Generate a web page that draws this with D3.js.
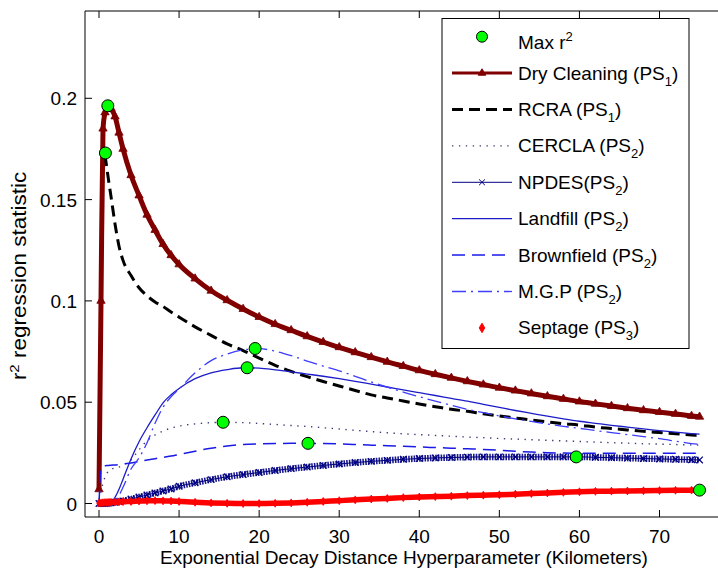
<!DOCTYPE html>
<html>
<head>
<meta charset="utf-8">
<script src="https://cdn.jsdelivr.net/npm/d3@7"></script>
<style>
body { margin: 0; background: #fff; }
svg text { font-family: Arial, "Liberation Sans", sans-serif; fill: #000; }
</style>
</head>
<body>
<svg id="chart" width="718" height="573"></svg>
<script>
// hyperparameter grid (km) and r^2
var distanceKm = [0, 0.25, 0.5, 0.75, 1, 1.25, 1.5, 2, 2.5, 3, 4, 5, 6, 7, 8, 9, 10,
	12, 14, 16, 18, 20, 22, 24, 26, 28, 30, 32, 34, 36, 38, 40, 42, 44, 46, 48, 50,
	52, 54, 56, 58, 60, 62, 64, 66, 68, 70, 72, 74, 75];
var dryCleaning = [0.007, 0.100, 0.185, 0.193, 0.1960, 0.1963, 0.195, 0.191, 0.183, 0.175, 0.162, 0.152, 0.1425, 0.135, 0.128, 0.1225, 0.118,
	0.111, 0.105, 0.1003, 0.096, 0.092, 0.0885, 0.0855, 0.0825, 0.0797, 0.0771, 0.0746, 0.0722, 0.0699, 0.0678, 0.0657, 0.0638, 0.0620, 0.0603, 0.0587, 0.0571,
	0.0557, 0.0543, 0.0529, 0.0516, 0.0503, 0.0492, 0.0481, 0.0470, 0.0460, 0.0451, 0.0442, 0.0432, 0.0428];
var rcra = [null, null, null, 0.172, 0.165, 0.158, 0.1515, 0.138, 0.127, 0.120, 0.1125, 0.1065, 0.1025, 0.0995, 0.0972, 0.0945, 0.0920,
	0.0872, 0.0830, 0.0788, 0.0755, 0.0718, 0.0682, 0.0652, 0.0626, 0.0602, 0.0580, 0.0558, 0.0536, 0.0521, 0.0506, 0.0491, 0.0478, 0.0465, 0.0455, 0.0443, 0.0432,
	0.0422, 0.0412, 0.0403, 0.0394, 0.0387, 0.0377, 0.0370, 0.0363, 0.0356, 0.0350, 0.0344, 0.0338, 0.0335];
var cercla = [0.002, 0.006, 0.010, 0.013, 0.015, 0.016, 0.017, 0.0175, 0.018, 0.019, 0.0215, 0.0265, 0.031, 0.0338, 0.0358, 0.0372, 0.0382,
	0.0393, 0.0399, 0.0401, 0.0399, 0.0395, 0.0390, 0.0385, 0.0380, 0.0374, 0.0368, 0.0361, 0.0355, 0.0349, 0.0344, 0.0340, 0.0336, 0.0332, 0.0328, 0.0325, 0.0321,
	0.0318, 0.0315, 0.0312, 0.0309, 0.0306, 0.0303, 0.0300, 0.0298, 0.0295, 0.0293, 0.0291, 0.0289, 0.0288];
var npdes = [0, 0, 0, 0, 0.0001, 0.0002, 0.0003, 0.0006, 0.001, 0.0013, 0.0022, 0.0032, 0.0042, 0.0052, 0.0062, 0.0072, 0.0085,
	0.0102, 0.0118, 0.0132, 0.0143, 0.0153, 0.0163, 0.0172, 0.0180, 0.0188, 0.0195, 0.0202, 0.0208, 0.0213, 0.0218, 0.0222, 0.0225, 0.0227, 0.0229, 0.0230, 0.0230,
	0.0230, 0.0230, 0.0230, 0.0230, 0.0230, 0.0228, 0.0226, 0.0224, 0.0222, 0.0220, 0.0218, 0.0216, 0.0215];
var landfill = [0, 0, 0, 0, 0, 0, 0.0005, 0.003, 0.007, 0.012, 0.022, 0.0305, 0.0374, 0.0437, 0.0497, 0.0537, 0.0568,
	0.0616, 0.0645, 0.0661, 0.0670, 0.0668, 0.0660, 0.0650, 0.0639, 0.0628, 0.0616, 0.0603, 0.0589, 0.0575, 0.0561, 0.0547, 0.0533, 0.0519, 0.0505, 0.0489, 0.0474,
	0.0459, 0.0445, 0.0431, 0.0418, 0.0406, 0.0396, 0.0386, 0.0377, 0.0368, 0.0360, 0.0352, 0.0345, 0.0342];
var brownfield = [0, 0.017, 0.0185, 0.0186, 0.0187, 0.0188, 0.0189, 0.0190, 0.0192, 0.0195, 0.0200, 0.0207, 0.0215, 0.0221, 0.0228, 0.0234, 0.0242,
	0.0258, 0.0273, 0.0284, 0.0291, 0.0294, 0.0296, 0.0297, 0.0297, 0.0296, 0.0294, 0.0291, 0.0288, 0.0285, 0.0282, 0.0279, 0.0276, 0.0273, 0.0270, 0.0267, 0.0263,
	0.0258, 0.0254, 0.0251, 0.0249, 0.0248, 0.0248, 0.0248, 0.0248, 0.0248, 0.0248, 0.0248, 0.0248, 0.0248];
var mgp = [0, 0, 0, 0, 0, 0, 0, 0.001, 0.004, 0.008, 0.017, 0.0225, 0.030, 0.0396, 0.0475, 0.0527, 0.0565,
	0.0645, 0.0705, 0.0738, 0.0758, 0.0764, 0.0752, 0.0730, 0.0703, 0.0678, 0.0655, 0.0628, 0.0600, 0.0575, 0.0550, 0.0527, 0.0505, 0.0485, 0.0465, 0.0448, 0.0432,
	0.0418, 0.0405, 0.0392, 0.0381, 0.0371, 0.0360, 0.0350, 0.0340, 0.0330, 0.0320, 0.0308, 0.0296, 0.0292];
var septage = [0.0002, 0.0003, 0.0004, 0.0005, 0.0005, 0.0006, 0.0006, 0.0007, 0.0008, 0.0009, 0.0010, 0.0012, 0.0013, 0.0014, 0.0013, 0.0012, 0.0010,
	0.0006, 0.0003, 0.0001, 0.0000, 0.0000, 0.0001, 0.0003, 0.0006, 0.0010, 0.0014, 0.0018, 0.0022, 0.0025, 0.0029, 0.0032, 0.0034, 0.0036, 0.0039, 0.0041, 0.0043,
	0.0046, 0.0049, 0.0052, 0.0055, 0.0058, 0.0060, 0.0061, 0.0062, 0.0063, 0.0064, 0.0065, 0.0066, 0.0066];

// green "Max r^2" dots, one per series (same order as the legend)
var maxDistance = [1.1, 0.8, 15.5, 59.6, 18.5, 26.1, 19.5, 75];
var maxR2 = [0.1963, 0.173, 0.0401, 0.0230, 0.0670, 0.0297, 0.0765, 0.0066];

var seriesNames = ["Dry Cleaning (PS", "RCRA (PS", "CERCLA (PS", "NPDES(PS", "Landfill (PS", "Brownfield (PS", "M.G.P (PS", "Septage (PS"];
var seriesSubs = ["1", "1", "2", "2", "2", "2", "2", "3"];
var xTicks = [0, 10, 20, 30, 40, 50, 60, 70];
var yTicks = [0, 0.05, 0.1, 0.15, 0.2];
var yTickLabels = ["0", "0.05", "0.1", "0.15", "0.2"];

var svg = d3.select("#chart");
var box = { left: 85, top: 11, right: 760, bottom: 517 };
var x = d3.scaleLinear().domain([0, 70]).range([99, 659.5]);
var y = d3.scaleLinear().domain([0, 0.2]).range([503.5, 98.3]);

svg.append("rect").attr("width", 718).attr("height", 573).attr("fill", "#fff");
svg.append("defs").append("clipPath").attr("id", "plotclip")
	.append("rect").attr("x", box.left).attr("y", box.top)
	.attr("width", box.right - box.left).attr("height", box.bottom - box.top);

var styles = [
	{ color: "#800000", width: 5, dash: null, marker: "triangle" },
	{ color: "#000000", width: 3, dash: "11,6" },
	{ color: "#3c3c78", width: 1.4, dash: "1.4,5.5" },
	{ color: "#000080", width: 1, dash: null, marker: "x", band: 6.5 },
	{ color: "#1c1cc8", width: 1.3, dash: null },
	{ color: "#1a1ae6", width: 1.5, dash: "13,7" },
	{ color: "#3d3dff", width: 1.3, dash: "14,5,2,5" },
	{ color: "#ff0000", width: 0, dash: null, marker: "diamond", band: 5.5 }
];
var allValues = [dryCleaning, rcra, cercla, npdes, landfill, brownfield, mgp, septage];

var series = allValues.map(function (vals, i) {
	return {
		name: seriesNames[i], sub: seriesSubs[i], style: styles[i],
		points: distanceKm.map(function (d, j) { return [d, vals[j]]; })
	};
});

var line = d3.line()
	.defined(function (d) { return d[1] != null; })
	.x(function (d) { return x(d[0]); })
	.y(function (d) { return y(d[1]); })
	.curve(d3.curveMonotoneX);

var symX = d3.symbolX || d3.symbolCross;
function markerPath(kind, size) {
	if (kind == "triangle") return d3.symbol().type(d3.symbolTriangle).size(size || 30)();
	if (kind == "x") return d3.symbol().type(symX).size(size || 30)();
	return d3.symbol().type(d3.symbolDiamond).size(size || 18)();
}

var plot = svg.append("g").attr("clip-path", "url(#plotclip)");

series.forEach(function (s) {
	var st = s.style;
	var gs = plot.append("g").attr("class", "series");
	if (st.band) {
		// dense markers in the original merge into a textured band
		gs.append("path").attr("d", line(s.points)).attr("fill", "none")
			.attr("stroke", st.color).attr("stroke-width", st.band)
			.attr("stroke-dasharray", st.marker == "x" ? "1.6,1.1" : null)
			.attr("opacity", st.marker == "x" ? 0.9 : 1);
	}
	if (st.width > 0) {
		gs.append("path").attr("d", line(s.points)).attr("fill", "none")
			.attr("stroke", st.color).attr("stroke-width", st.width)
			.attr("stroke-dasharray", st.dash)
			.attr("stroke-linejoin", "round");
	}
	if (st.marker) {
		gs.selectAll("path.mk").data(s.points.filter(function (d) { return d[1] != null; }))
			.enter().append("path").attr("class", "mk")
			.attr("transform", function (d) { return "translate(" + x(d[0]) + "," + y(d[1]) + ")"; })
			.attr("d", markerPath(st.marker))
			.attr("fill", st.marker == "x" ? "none" : st.color)
			.attr("stroke", st.color)
			.attr("stroke-width", st.marker == "x" ? 1.2 : 0.8);
	}
});

plot.selectAll("circle.max").data(maxDistance.map(function (d, i) { return [d, maxR2[i]]; }))
	.enter().append("circle").attr("class", "max")
	.attr("cx", function (d) { return x(d[0]); })
	.attr("cy", function (d) { return y(d[1]); })
	.attr("r", 6).attr("fill", "#00ff00").attr("stroke", "#000").attr("stroke-width", 1);

// axes box, ticks point inward like matlab
var ax = svg.append("g").attr("stroke", "#000").attr("stroke-width", 1).attr("fill", "none");
ax.append("line").attr("x1", box.left).attr("x2", box.left).attr("y1", box.top).attr("y2", box.bottom);
ax.append("line").attr("x1", box.left).attr("x2", 718).attr("y1", box.top).attr("y2", box.top);
ax.append("line").attr("x1", box.left).attr("x2", 718).attr("y1", box.bottom).attr("y2", box.bottom);
xTicks.forEach(function (t) {
	ax.append("line").attr("x1", x(t)).attr("x2", x(t)).attr("y1", box.bottom).attr("y2", box.bottom - 7);
	ax.append("line").attr("x1", x(t)).attr("x2", x(t)).attr("y1", box.top).attr("y2", box.top + 7);
});
yTicks.forEach(function (t) {
	ax.append("line").attr("x1", box.left).attr("x2", box.left + 7).attr("y1", y(t)).attr("y2", y(t));
});

svg.selectAll("text.xt").data(xTicks).enter().append("text").attr("class", "xt")
	.attr("x", function (d) { return x(d); }).attr("y", 543)
	.attr("text-anchor", "middle").style("font-size", "19px").text(function (d) { return d; });
svg.selectAll("text.yt").data(yTicks).enter().append("text").attr("class", "yt")
	.attr("x", 77).attr("y", function (d) { return y(d) + 7; })
	.attr("text-anchor", "end").style("font-size", "19px")
	.text(function (d, i) { return yTickLabels[i]; });

svg.append("text").attr("x", 404).attr("y", 564).attr("text-anchor", "middle")
	.style("font-size", "19px").text("Exponential Decay Distance Hyperparameter (Kilometers)");

// the source image is squeezed sideways, so the vertical label runs longer
var yl = svg.append("text").attr("transform", "translate(26,276) scale(0.86,1) rotate(-90)")
	.attr("text-anchor", "middle").style("font-size", "22.5px");
yl.append("tspan").text("r");
yl.append("tspan").attr("dy", -8).style("font-size", "15px").text("2");
yl.append("tspan").attr("dy", 8).text(" regression statistic");

// legend
var lg = svg.append("g");
lg.append("rect").attr("x", 442).attr("y", 18.5).attr("width", 247).attr("height", 330)
	.attr("fill", "#fff").attr("stroke", "#000").attr("stroke-width", 1);
var row0 = 36.7, rowStep = 36.4;
lg.append("circle").attr("cx", 482).attr("cy", row0).attr("r", 5.5)
	.attr("fill", "#00ff00").attr("stroke", "#000").attr("stroke-width", 1);
var mt = lg.append("text").attr("x", 518).attr("y", row0 + 12.5).style("font-size", "19px");
mt.append("tspan").text("Max r");
mt.append("tspan").attr("dy", -8).style("font-size", "13px").text("2");

series.forEach(function (s, i) {
	var st = s.style;
	var ry = row0 + rowStep * (i + 1);
	if (st.width > 0) {
		lg.append("line").attr("x1", 452).attr("x2", 512).attr("y1", ry).attr("y2", ry)
			.attr("stroke", st.color).attr("stroke-width", Math.min(st.width, 3))
			.attr("stroke-dasharray", st.dash);
	}
	if (st.marker) {
		lg.append("path").attr("transform", "translate(482," + ry + ")")
			.attr("d", markerPath(st.marker, st.marker == "diamond" ? 26 : 24))
			.attr("fill", st.marker == "x" ? "none" : st.color)
			.attr("stroke", st.color).attr("stroke-width", 1);
	}
	var t = lg.append("text").attr("x", 518).attr("y", ry + 6.5).style("font-size", "19px");
	t.append("tspan").text(s.name);
	t.append("tspan").attr("dy", 6).style("font-size", "13px").text(s.sub);
	t.append("tspan").attr("dy", -6).text(")");
});
</script>
</body>
</html>
